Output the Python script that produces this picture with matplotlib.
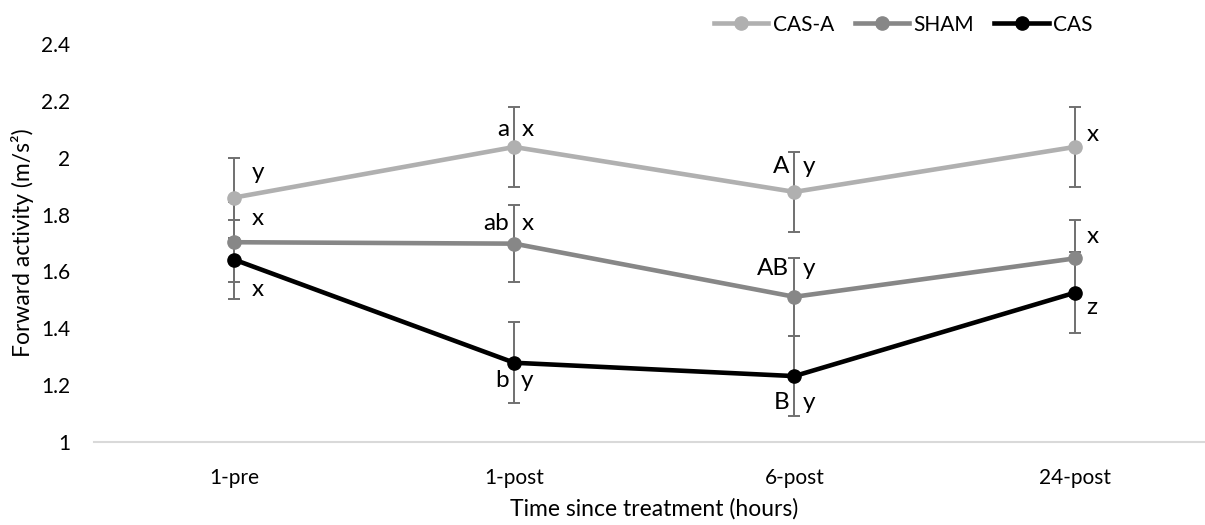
import matplotlib
matplotlib.use('Agg')
import matplotlib.pyplot as plt

plt.rcParams['font.family'] = ['Lato', 'DejaVu Sans']

# mean forward activity per time point, with error bar half-widths
times = ['1-pre', '1-post', '6-post', '24-post']

cas_a = [1.860, 2.038, 1.880, 2.038]
cas_a_err = [0.141, 0.142, 0.140, 0.141]

sham = [1.703, 1.698, 1.511, 1.646]
sham_err = [0.140, 0.135, 0.137, 0.134]

cas = [1.642, 1.279, 1.232, 1.525]
cas_err = [0.140, 0.143, 0.140, 0.143]

# significance letters (left of the bar / right of the bar)
cas_a_left = ['', 'a', 'A', '']
cas_a_right = ['y', 'x', 'y', 'x']
sham_left = ['', 'ab', 'AB', '']
sham_right = ['x', 'x', 'y', 'x']
cas_left = ['', 'b', 'B', '']
cas_right = ['x', 'y', 'y', 'z']

series = [
	('CAS-A', cas_a, cas_a_err, cas_a_left, cas_a_right, '#b0b0b0', [25, 17, 25, 12]),
	('SHAM', sham, sham_err, sham_left, sham_right, '#878787', [24, 20, 28, 22]),
	('CAS', cas, cas_err, cas_left, cas_right, '#000000', [-30, -18, -26, -15]),
]
right_dx = [18, 7, 8, 12]

fig = plt.figure(figsize=(12.05, 5.25), dpi=100)
ax = fig.add_axes([0.078, 0.158, 0.930, 0.758])

x = list(range(len(times)))
handles = []
for name, vals, errs, left, right, color, dy in series:
	ax.errorbar(x, vals, yerr=errs, fmt='none', ecolor='#707070', elinewidth=1.4,
				capsize=4.5, capthick=1.4, zorder=2)
	line, = ax.plot(x, vals, '-o', color=color, linewidth=3.3, markersize=9.5,
					label=name, zorder=3)
	handles.append(line)
	for i in x:
		if left[i]:
			ax.annotate(left[i], (i, vals[i]), xytext=(-5, dy[i]), textcoords='offset pixels',
						ha='right', va='center', fontsize=17.5, color='#000000')
		ax.annotate(right[i], (i, vals[i]), xytext=(right_dx[i], dy[i]), textcoords='offset pixels',
					ha='left', va='center', fontsize=17.5, color='#000000')

ax.set_xlim(-0.5, 3.5)
ax.set_ylim(1, 2.4)
ax.set_yticks([1, 1.2, 1.4, 1.6, 1.8, 2, 2.2, 2.4])
ax.set_yticklabels(['1', '1.2', '1.4', '1.6', '1.8', '2', '2.2', '2.4'])
ax.set_xticks(x)
ax.set_xticklabels(times)

for side in ['top', 'right', 'left']:
	ax.spines[side].set_visible(False)
ax.spines['bottom'].set_color('#d9d9d9')
ax.spines['bottom'].set_linewidth(1.5)
ax.tick_params(axis='both', length=0, labelsize=15, colors='#000000')
ax.tick_params(axis='y', pad=17)
ax.tick_params(axis='x', pad=19)

ax.set_xlabel('Time since treatment (hours)', fontsize=16.5, labelpad=7)
ax.set_ylabel('Forward activity (m/s²)', fontsize=16.5, labelpad=5)

fig.legend(handles=handles, loc='upper right', bbox_to_anchor=(0.922, 1.008), ncol=3,
		   frameon=False, fontsize=15, handlelength=2.6, handletextpad=0.2,
		   columnspacing=1.0, borderaxespad=0.5)

fig.savefig('out.png', dpi=100)
